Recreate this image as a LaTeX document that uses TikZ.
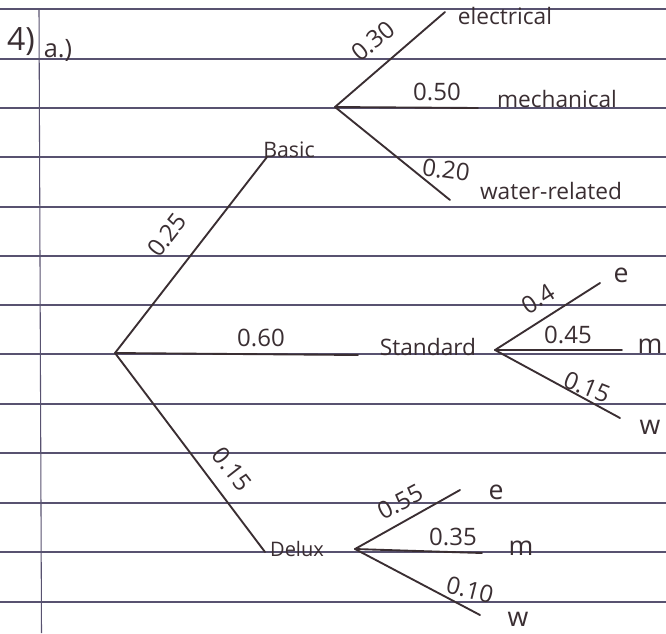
\documentclass[tikz,border=0pt]{standalone}
\usepackage{fontspec}
\setmainfont{Open Sans}
\definecolor{inkc}{RGB}{58,46,50}
\definecolor{rulec}{RGB}{88,82,112}
\begin{document}
\begin{tikzpicture}[x=0.75pt,y=-0.75pt,
  ink/.style={draw=inkc, line width=1.4pt, line cap=round},
  rule/.style={draw=rulec, line width=0.8pt},
  num/.style={text=inkc, font=\fontsize{18}{18}\selectfont, inner sep=0pt},
  small/.style={text=inkc, font=\fontsize{15}{15}\selectfont, inner sep=0pt},
  word/.style={text=inkc, font=\fontsize{17}{17}\selectfont, inner sep=0pt},
  leaf/.style={text=inkc, font=\fontsize{20}{20}\selectfont, inner sep=0pt},
  big/.style={text=inkc, font=\fontsize{24}{24}\selectfont, inner sep=0pt}]
\useasboundingbox (0,0) rectangle (666,633);
\fill[white] (0,0) rectangle (666,633);
% ruled paper
\foreach \y in {9,59,108,157,207,256,305,354,404,453,503,552,602}
  \draw[rule] (0,\y) -- (666,\y);
\draw[rule] (39,9) -- (41.5,633);
% heading
\node[big] (q) at (21,42) {4)};
\node[word, font=\fontsize{19}{19}\selectfont] (qa) at (58,50) {a.)};
% tree points
\coordinate (root) at (115,353);
\coordinate (basic) at (267,157);
\coordinate (std) at (358,355);
\coordinate (dlx) at (265,552);
\coordinate (bn) at (335,107);
\coordinate (sn) at (495,350);
\coordinate (dn) at (355,549);
\coordinate (be) at (445,12);
\coordinate (bm) at (478,108);
\coordinate (bw) at (450,200);
\coordinate (se) at (600,283);
\coordinate (sm) at (622,350);
\coordinate (sw) at (620,418);
\coordinate (de) at (460,490);
\coordinate (dm) at (482,553);
\coordinate (dw) at (480,615);
% first level
\draw[ink] (root) -- (basic);
\draw[ink] (root) -- (std);
\draw[ink] (root) -- (dlx);
\node[num, rotate=52] (p1) at (167,235) {0.25};
\node[num] (p2) at (261,338) {0.60};
\node[num, rotate=-52] (p3) at (232,469) {0.15};
\node[small, font=\fontsize{16}{16}\selectfont] (nb) at (289,150) {Basic};
\node[word] (ns) at (428,347) {Standard};
\node[small] (nd) at (297,549) {Delux};
% basic subtree
\draw[ink] (bn) -- (be);
\draw[ink] (bn) -- (bm);
\draw[ink] (bn) -- (bw);
\node[num, rotate=40] (pb1) at (373,41) {0.30};
\node[num] (pb2) at (437,92) {0.50};
\node[num, rotate=-8] (pb3) at (446,170) {0.20};
\node[word] (le) at (505,16) {electrical};
\node[word] (lm) at (557,99) {mechanical};
\node[word] (lw) at (551,191) {water-related};
% standard subtree
\draw[ink] (sn) -- (se);
\draw[ink] (sn) -- (sm);
\draw[ink] (sn) -- (sw);
\node[num, rotate=32] (ps1) at (538,299) {0.4};
\node[num] (ps2) at (568,335) {0.45};
\node[num, rotate=-22] (ps3) at (587,387) {0.15};
\node[leaf] (se1) at (621,275) {e};
\node[leaf] (sm1) at (650,346) {m};
\node[leaf] (sw1) at (650,427) {w};
% delux subtree
\draw[ink] (dn) -- (de);
\draw[ink] (dn) -- (dm);
\draw[ink] (dn) -- (dw);
\node[num, rotate=28] (pd1) at (400,502) {0.55};
\node[num] (pd2) at (453,537) {0.35};
\node[num, rotate=-14] (pd3) at (470,590) {0.10};
\node[leaf] (de1) at (496,492) {e};
\node[leaf] (dm1) at (521,548) {m};
\node[leaf] (dw1) at (518,619) {w};
\end{tikzpicture}
\end{document}
